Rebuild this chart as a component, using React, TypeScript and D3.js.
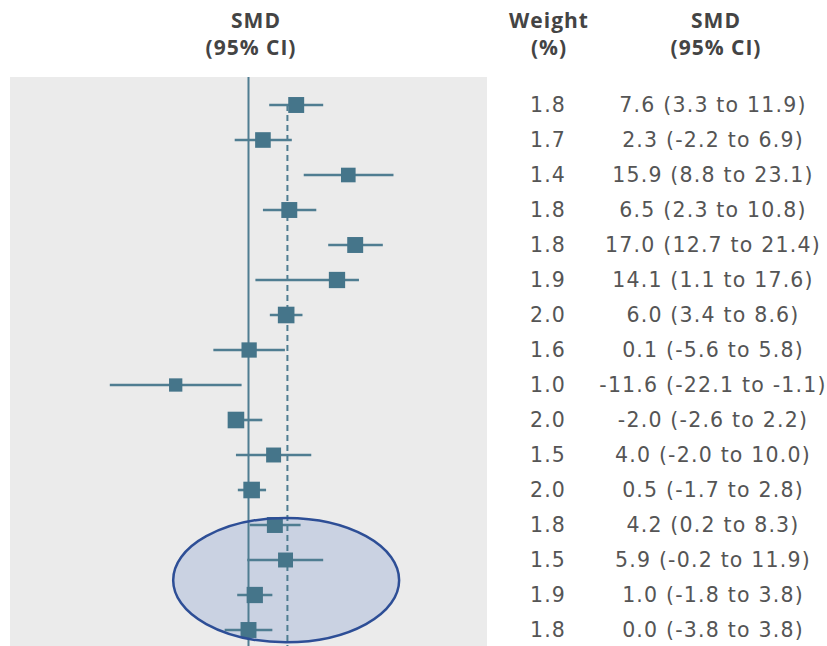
import React from "react";
import * as d3 from "d3";

// Study-level standardised mean differences with 95% CIs and weights
const smd = [7.6, 2.3, 15.9, 6.5, 17.0, 14.1, 6.0, 0.1, -11.6, -2.0, 4.0, 0.5, 4.2, 5.9, 1.0, 0.0];
const ciLow = [3.3, -2.2, 8.8, 2.3, 12.7, 1.1, 3.4, -5.6, -22.1, -2.6, -2.0, -1.7, 0.2, -0.2, -1.8, -3.8];
const ciHigh = [11.9, 6.9, 23.1, 10.8, 21.4, 17.6, 8.6, 5.8, -1.1, 2.2, 10.0, 2.8, 8.3, 11.9, 3.8, 3.8];
const weights = [1.8, 1.7, 1.4, 1.8, 1.8, 1.9, 2.0, 1.6, 1.0, 2.0, 1.5, 2.0, 1.8, 1.5, 1.9, 1.8];
const pooled = 6.2;
// highlight ellipse extent: SMD range and row range
const highlightX = [-12, 24];
const highlightRows = [11.8, 15.35];

const xDomain = [-38, 38];

const W = 827;
const H = 646;
const panel = { left: 10, right: 487, top: 77, bottom: 646 };
const rowStart = 105;
const rowStep = 35;

const markColor = "#45758a";
const lineColor = "#4f7d91";
const textColor = "#555555";
const headColor = "#444444";
const numFont = "'DejaVu Sans', sans-serif";
const headFont = "'Open Sans', sans-serif";

const fmt = (v: number) => v.toFixed(1);

export default function App() {
  const x = d3.scaleLinear().domain(xDomain).range([panel.left, panel.right]);
  const y = d3
    .scaleLinear()
    .domain([0, 1])
    .range([rowStart, rowStart + rowStep]);
  const size = d3.scaleLinear().domain([1, 2]).range([13.3, 16.6]);

  const ellCx = (x(highlightX[0]) + x(highlightX[1])) / 2;
  const ellRx = (x(highlightX[1]) - x(highlightX[0])) / 2;
  const ellCy = (y(highlightRows[0]) + y(highlightRows[1])) / 2;
  const ellRy = (y(highlightRows[1]) - y(highlightRows[0])) / 2;

  return (
    <svg
      width={W}
      height={H}
      style={{ position: "absolute", left: 0, top: 0, display: "block" }}
    >
      <rect width={W} height={H} fill="#ffffff" />

      {/* column headers */}
      <g
        fontFamily={headFont}
        fontWeight={700}
        fontSize={21}
        letterSpacing={1}
        fill={headColor}
        textAnchor="middle"
      >
        <text x={256} y={28}>SMD</text>
        <text x={251} y={55}>(95% CI)</text>
        <text x={549} y={28}>Weight</text>
        <text x={549} y={55}>(%)</text>
        <text x={716} y={28}>SMD</text>
        <text x={716} y={55}>(95% CI)</text>
      </g>

      {/* plot panel */}
      <rect
        x={panel.left}
        y={panel.top}
        width={panel.right - panel.left}
        height={panel.bottom - panel.top}
        fill="#ebebeb"
      />

      {/* highlight fill */}
      <ellipse cx={ellCx} cy={ellCy} rx={ellRx} ry={ellRy} fill="rgb(70,110,190)" fillOpacity={0.2} />

      {/* line of no effect */}
      <line x1={x(0)} x2={x(0)} y1={panel.top} y2={panel.bottom} stroke={lineColor} strokeWidth={2} />
      {/* pooled estimate */}
      <line
        x1={x(pooled)}
        x2={x(pooled)}
        y1={y(0)}
        y2={panel.bottom}
        stroke={lineColor}
        strokeWidth={2}
        strokeDasharray="6 4"
      />

      {/* study estimates */}
      {smd.map((v, i) => {
        const s = size(weights[i]);
        return (
          <g key={i}>
            <line
              x1={x(ciLow[i])}
              x2={x(ciHigh[i])}
              y1={y(i)}
              y2={y(i)}
              stroke={lineColor}
              strokeWidth={2.6}
            />
            <rect x={x(v) - s / 2} y={y(i) - s / 2} width={s} height={s} fill={markColor} />
          </g>
        );
      })}

      {/* highlight outline */}
      <ellipse cx={ellCx} cy={ellCy} rx={ellRx} ry={ellRy} fill="none" stroke="#2d4e96" strokeWidth={2.5} />

      {/* right-hand columns */}
      <g
        fontFamily={numFont}
        fontSize={20.5}
        letterSpacing={1.2}
        fill={textColor}
        textAnchor="middle"
      >
        {weights.map((w, i) => (
          <text key={"w" + i} x={548} y={y(i) + 7}>
            {fmt(w)}
          </text>
        ))}
        {smd.map((v, i) => (
          <text key={"s" + i} x={713} y={y(i) + 7}>
            {`${fmt(v)} (${fmt(ciLow[i])} to ${fmt(ciHigh[i])})`}
          </text>
        ))}
      </g>
    </svg>
  );
}
